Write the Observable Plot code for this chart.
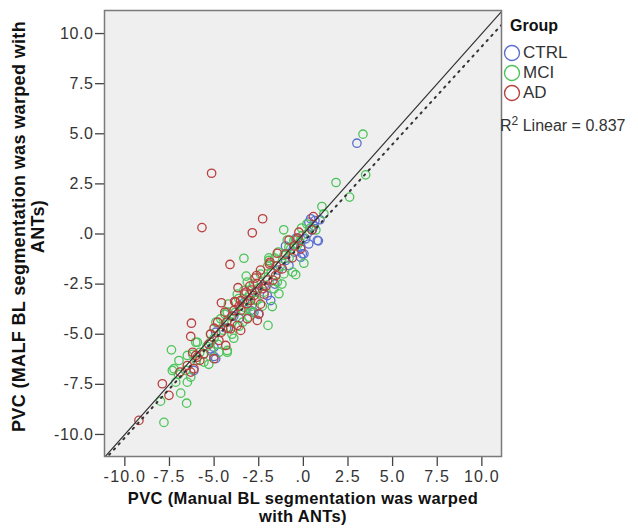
<!DOCTYPE html>
<html>
<head>
<meta charset="utf-8">
<script src="https://cdn.jsdelivr.net/npm/d3@7"></script>
<script src="https://cdn.jsdelivr.net/npm/@observablehq/plot@0.6"></script>
<style>
  body { margin: 0; background: white; font-family: "Liberation Sans", Arial, sans-serif; }
  #wrap { position: relative; width: 638px; height: 531px; }
  #legend { position: absolute; left: 500px; top: 0; width: 138px; color: #333; }
  .lg-title { position: absolute; left: 10px; top: 17px; font-weight: bold; font-size: 16px; color: #111; }
  .lg-item { position: absolute; left: 3px; height: 18px; display: flex; align-items: center; font-size: 17px; white-space: nowrap; }
  .lg-item svg { margin-right: 2px; }
  .lg-r2 { position: absolute; left: 0px; top: 114px; font-size: 16px; white-space: nowrap; }
  g[aria-label="x-axis tick label"] text { letter-spacing: 1.2px; }
  g[aria-label="y-axis tick label"] text { letter-spacing: 0.6px; }
  g[aria-label="text"] text { letter-spacing: 0.35px; }
</style>
</head>
<body>
<div id="wrap"><div id="chart"></div><div id="legend"></div></div>
<script>
// ---- data ----
const groups = ["CTRL", "MCI", "AD"];
const groupColors = ["#5b6fd0", "#4cc45a", "#b8403f"];

const ctrlX = [3.00,0.78,0.31,0.41,0.65,0.93,0.84,0.22,0.13,-0.06,-0.15,-0.99,-0.15,-0.81,-2.02,-1.83,-2.95,-2.50,-5.19,-4.91,-6.13,-5.01,-4.91,-2.77,-5.01,0.03,-1.40,-0.50,-3.30,-3.60,-2.20,0.50,0.30,-1.00,-4.30,-2.70,-1.60,-3.90,-0.40,0.60];
const ctrlY = [4.53,-0.32,0.59,0.76,0.67,0.71,-0.34,0.01,-0.24,-0.99,-1.16,-1.32,-0.66,-1.57,-3.07,-3.32,-3.82,-4.01,-5.73,-6.22,-6.81,-6.11,-4.90,-3.90,-5.65,-0.99,-1.80,-0.90,-3.40,-4.20,-2.60,0.20,-0.50,-0.60,-4.70,-2.90,-2.50,-4.10,-0.20,0.40];

const mciX = [3.34,3.49,1.83,2.59,1.04,1.15,-1.10,-0.53,-0.06,-0.81,-0.34,-1.93,-1.09,-3.33,-1.93,-0.71,0.03,-0.43,-1.09,-2.11,-1.46,-3.14,-3.33,-1.65,-1.37,-1.74,-3.62,-3.33,-4.26,-4.63,-1.98,-3.42,-3.05,-2.86,-4.26,-5.19,-5.94,-4.73,-4.26,-6.50,-6.97,-5.57,-7.25,-7.39,-7.15,-6.50,-7.34,-5.30,-6.31,-8.00,-6.87,-6.54,-7.81,-6.03,-5.19,-4.26,-2.40,-2.80,-3.00,-2.60,-3.80,-4.00,-4.50,-5.00,-5.40,-5.60,-6.00,-6.60,-3.60,-2.20,-1.80,-1.30,-0.80,-0.20,0.40,0.70,-0.60,-2.00,-3.20,-4.20,-4.80,-3.90,-3.40,-2.90,-1.20,-2.50,-0.10,0.20,-1.60,-2.70,-3.70,-4.90,-5.80,-6.20,-7.00,-2.30,-3.10,-0.90,-1.40,-4.40,-4.00,-5.20];
const mciY = [4.98,2.95,2.57,1.84,1.37,1.01,0.21,-0.32,-0.07,-0.66,-0.57,-1.19,-1.07,-1.21,-1.32,-0.74,-1.46,-2.03,-1.99,-2.15,-2.40,-2.40,-2.82,-2.73,-2.98,-3.62,-3.22,-3.65,-3.90,-4.23,-4.56,-3.82,-4.15,-3.90,-4.31,-4.98,-5.40,-5.90,-5.90,-6.06,-6.31,-6.39,-6.72,-5.78,-7.39,-7.39,-6.81,-6.50,-7.14,-8.34,-7.94,-8.44,-9.40,-5.40,-5.83,-5.81,-2.00,-2.50,-3.00,-3.30,-3.90,-4.40,-4.80,-5.20,-5.60,-6.00,-6.30,-6.80,-4.60,-2.90,-1.90,-1.60,-1.20,-0.40,0.30,0.20,-1.90,-1.60,-2.10,-3.50,-5.50,-5.20,-4.40,-3.60,-2.50,-2.70,0.30,0.50,-1.20,-3.30,-3.00,-4.40,-5.90,-6.00,-7.00,-3.60,-3.30,-0.30,-0.90,-4.00,-5.00,-5.40];

const adX = [-5.14,-2.28,-2.86,-5.68,0.56,0.48,-0.25,-0.15,-1.46,-0.62,-4.11,-1.18,-2.62,-1.55,-2.58,-3.66,-2.30,-2.77,-2.95,-4.59,-3.85,-3.51,-3.14,-3.89,-2.49,-6.27,-6.31,-2.58,-3.14,-3.70,-3.51,-4.07,-4.73,-4.35,-5.57,-5.94,-5.01,-6.13,-7.90,-7.53,-9.21,-6.91,-6.50,-6.31,-6.03,-1.87,-2.00,-2.40,-1.70,-3.20,-3.50,-4.00,-4.30,-4.60,-5.00,-5.30,-2.70,-1.00,-0.50,-3.00,-2.20,-4.40,-5.80,-6.20,-1.90,-0.80,-3.30,-3.80,-2.10,-3.60,-4.80,-2.40,-1.50,-5.20,-4.20,-2.90,-0.30];
const adY = [3.03,0.76,0.06,0.32,0.87,0.21,0.09,-0.74,-0.96,-1.19,-1.52,-1.74,-2.07,-2.07,-2.48,-2.68,-2.73,-3.07,-3.32,-3.43,-3.37,-3.32,-3.48,-3.82,-3.98,-4.45,-5.11,-4.31,-4.23,-4.56,-4.81,-4.73,-5.31,-5.56,-5.98,-6.14,-6.22,-6.72,-7.47,-8.05,-9.30,-6.89,-6.56,-6.89,-6.06,-1.41,-2.30,-1.80,-2.30,-2.90,-3.80,-4.10,-4.40,-4.90,-4.70,-5.50,-2.20,-1.00,-0.60,-2.60,-3.00,-3.90,-6.30,-5.90,-1.50,-0.30,-3.00,-3.40,-2.60,-3.60,-4.40,-3.50,-1.60,-5.00,-4.70,-2.80,-0.20];

const xDomain = [-11.14, 11.10];
const yDomain = [-11.10, 11.15];
const xTicks = [-10, -7.5, -5, -2.5, 0, 2.5, 5, 7.5, 10];
const yTicks = [-10, -7.5, -5, -2.5, 0, 2.5, 5, 7.5, 10];
const fitIntercept = -0.40;   // dotted linear fit
const fitSlope = 0.976;
const r2Text = "0.837";
const xTitle = "PVC (Manual BL segmentation was warped\nwith ANTs)";
const yTitle = "PVC (MALF BL segmentation was warped with\nANTs)";

// ---- build tables ----
const points = [];
[[ctrlX, ctrlY, "CTRL"], [mciX, mciY, "MCI"], [adX, adY, "AD"]].forEach(([xs, ys, g]) => {
  xs.forEach((v, i) => points.push({x: v, y: ys[i], group: g}));
});
const refLine = xDomain.map(v => ({x: v, y: v}));
const fitLine = xDomain.map(v => ({x: v, y: fitIntercept + fitSlope * v}));
const fmt = d => d === 0 ? ".0" : d.toFixed(1);

const chart = Plot.plot({
  width: 638,
  height: 531,
  marginLeft: 104,
  marginRight: 137,
  marginTop: 10,
  marginBottom: 75,
  style: {fontFamily: "'Liberation Sans', Arial, sans-serif", color: "#333", background: "white", overflow: "visible"},
  x: {domain: xDomain, label: null},
  y: {domain: yDomain, label: null},
  color: {domain: groups, range: groupColors},
  marks: [
    Plot.frame({fill: "#efefef"}),
    Plot.axisX({ticks: xTicks, tickFormat: fmt, tickSize: 10, tickPadding: 4, fontSize: 16, label: null, stroke: "#444", strokeWidth: 1.3}),
    Plot.axisY({ticks: yTicks, tickFormat: fmt, tickSize: 9, tickPadding: 2, fontSize: 16, label: null, stroke: "#444", strokeWidth: 1.3}),
    Plot.dot(points, {x: "x", y: "y", stroke: "group", r: 4.2, strokeWidth: 1.3, fill: "none", clip: true}),
    Plot.line(refLine, {x: "x", y: "y", stroke: "#333", strokeWidth: 1.2, clip: true}),
    Plot.line(fitLine, {x: "x", y: "y", stroke: "#333", strokeWidth: 2, strokeDasharray: "1.5,5.5", clip: true}),
    Plot.frame({stroke: "#7a7a7a", strokeWidth: 1.5}),
    Plot.text([xTitle], {text: d => d, frameAnchor: "bottom", textAnchor: "middle", lineAnchor: "top", dy: 34, fontSize: 16.5, fontWeight: "bold", lineHeight: 1.12, fill: "#111"}),
    Plot.text([yTitle], {text: d => d, frameAnchor: "left", textAnchor: "middle", lineAnchor: "middle", rotate: -90, dx: -76, dy: -7, fontSize: 18, fontWeight: "bold", lineHeight: 1.08, fill: "#111"})
  ]
});
document.getElementById("chart").appendChild(chart);

// ---- legend ----
const legend = document.getElementById("legend");
const t = document.createElement("div");
t.className = "lg-title"; t.textContent = "Group";
legend.appendChild(t);
groups.forEach((g, i) => {
  const item = document.createElement("div");
  item.className = "lg-item";
  item.style.top = (44 + i * 20) + "px";
  item.innerHTML = `<svg width="18" height="18"><circle cx="9" cy="9" r="7.5" fill="none" stroke="${groupColors[i]}" stroke-width="1.4"/></svg><span>${g}</span>`;
  legend.appendChild(item);
});
const r2 = document.createElement("div");
r2.className = "lg-r2";
r2.innerHTML = `R<sup style="font-size:12px">2</sup> Linear = ${r2Text}`;
legend.appendChild(r2);
</script>
</body>
</html>
